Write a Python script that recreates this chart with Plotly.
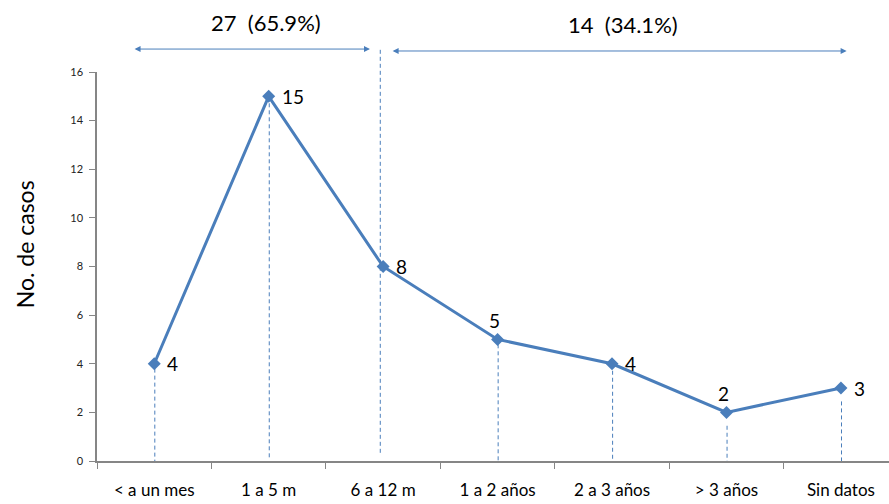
import plotly.graph_objects as go

# Cases by time interval
categories = ["< a un mes", "1 a 5 m", "6 a 12 m", "1 a 2 años", "2 a 3 años", "> 3 años", "Sin datos"]
cases = [4, 15, 8, 5, 4, 2, 3]
y_ticks = [0, 2, 4, 6, 8, 10, 12, 14, 16]

group_labels = ["27  (65.9%)", "14  (34.1%)"]

# where each value label sits relative to its point
label_side = ["right", "right", "right", "top", "right", "top", "right"]
# drop-line extent (start below point, end below axis), in data units
drop_top_gap = [0.2, 0.0, None, 0.2, 0.0, 0.55, 0.55]
drop_bottom = [-0.08, 0.1, None, -0.08, -0.3, -0.45, -0.45]

BLUE = "#4A7EBB"
FONT = "Lato, 'Open Sans', sans-serif"
DASH = "4px,3px"

fig = go.Figure()

fig.add_trace(go.Scatter(
    x=categories, y=cases, mode="lines+markers",
    line=dict(color=BLUE, width=3),
    marker=dict(symbol="diamond", size=10, color=BLUE),
    hoverinfo="skip", showlegend=False, cliponaxis=False,
))

shapes = []
# dashed drop lines from the points
for i, (v, g, b) in enumerate(zip(cases, drop_top_gap, drop_bottom)):
    if g is None:
        continue
    shapes.append(dict(type="line", xref="x", yref="y",
                       x0=i + 0.005, x1=i + 0.005, y0=v - g, y1=b,
                       line=dict(color=BLUE, width=1, dash=DASH)))

# separator between the two groups (before "6 a 12 m" point)
sep_x = 1.975
shapes.append(dict(type="line", xref="x", yref="paper",
                   x0=sep_x, x1=sep_x, y0=1.057, y1=0.016,
                   line=dict(color=BLUE, width=1, dash=DASH)))

annotations = []
for i, (v, side) in enumerate(zip(cases, label_side)):
    if side == "right":
        annotations.append(dict(x=i, y=v, xref="x", yref="y", text=str(v),
                                showarrow=False, xanchor="left", yanchor="middle",
                                xshift=11, yshift=0,
                                font=dict(family=FONT, size=19, color="#000")))
    else:
        annotations.append(dict(x=i, y=v, xref="x", yref="y", text=str(v),
                                showarrow=False, xanchor="center", yanchor="bottom",
                                xshift=-3, yshift=5,
                                font=dict(family=FONT, size=19, color="#000")))

# group span arrows
annotations.append(dict(x=1.885, y=1.059, xref="x", yref="paper",
                        ax=-0.185, ay=0, axref="x", ayref="pixel",
                        text="", showarrow=True, arrowhead=2, arrowside="end+start",
                        arrowsize=1.2, arrowwidth=1, arrowcolor=BLUE))
annotations.append(dict(x=6.05, y=1.054, xref="x", yref="paper",
                        ax=2.07, ay=0, axref="x", ayref="pixel",
                        text="", showarrow=True, arrowhead=2, arrowside="end+start",
                        arrowsize=1.2, arrowwidth=1, arrowcolor=BLUE))
annotations.append(dict(x=0.98, y=1.127, xref="x", yref="paper", yanchor="middle",
                        text=group_labels[0], showarrow=False,
                        font=dict(family=FONT, size=22, color="#000")))
annotations.append(dict(x=4.10, y=1.122, xref="x", yref="paper", yanchor="middle",
                        text=group_labels[1], showarrow=False,
                        font=dict(family=FONT, size=22, color="#000")))

# y-axis title
annotations.append(dict(x=-0.091, y=0.557, xref="paper", yref="paper",
                        xanchor="center", yanchor="middle",
                        text="No. de casos", textangle=-90, showarrow=False,
                        font=dict(family=FONT, size=23, color="#000")))

fig.update_layout(
    width=889, height=504,
    margin=dict(l=97, r=0, t=72, b=43),
    paper_bgcolor="white", plot_bgcolor="white",
    shapes=shapes, annotations=annotations,
    font=dict(family=FONT),
)

fig.update_xaxes(
    type="category", range=[-0.5, 6.42],
    showline=True, linecolor="#868686", linewidth=1.5,
    ticks="outside", tickson="boundaries", ticklen=6, tickcolor="#868686",
    tickfont=dict(family=FONT, size=17, color="#000"),
    ticklabelstandoff=13, showgrid=False, zeroline=False,
)
fig.update_yaxes(
    range=[0, 16], tickvals=y_ticks,
    showline=True, linecolor="#868686", linewidth=1.5,
    ticks="outside", ticklen=6, tickcolor="#868686",
    tickfont=dict(family=FONT, size=11, color="#222"),
    ticklabelstandoff=4, showgrid=False, zeroline=False,
)

fig.write_html("out.html")
